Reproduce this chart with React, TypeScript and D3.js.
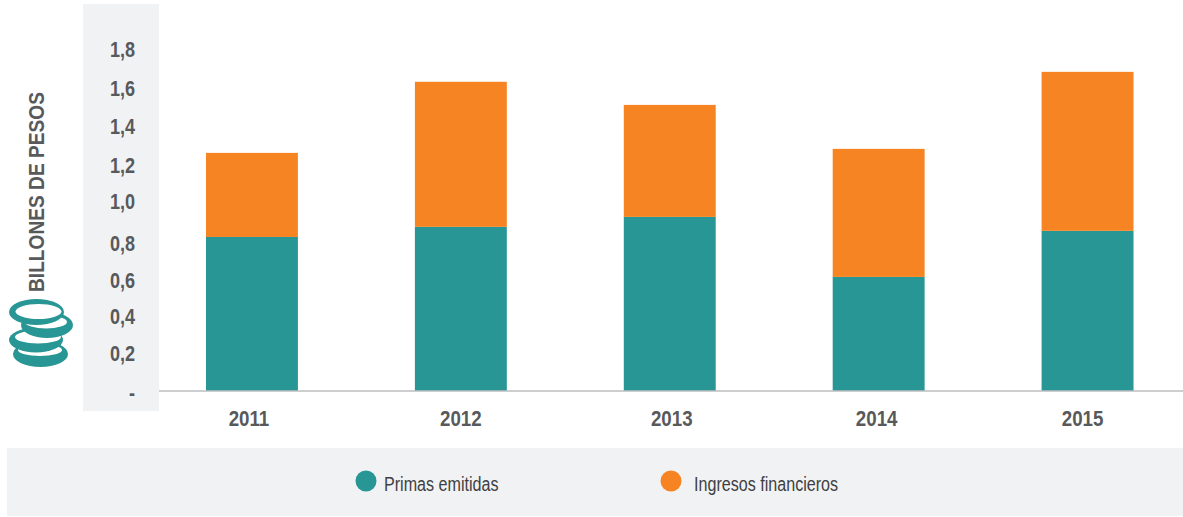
import React, { useEffect, useRef } from "react";
import { select, scaleLinear, scaleBand, axisLeft, axisBottom, stack, format } from "d3";

const years = ["2011", "2012", "2013", "2014", "2015"];
const primas = [0.806, 0.859, 0.911, 0.597, 0.838];
const ingresos = [0.44, 0.759, 0.586, 0.67, 0.832];
const tickValues = [0, 0.2, 0.4, 0.6, 0.8, 1.0, 1.2, 1.4, 1.6, 1.8];
const seriesNames = ["Primas emitidas", "Ingresos financieros"];

const width = 1183;
const height = 517;
const teal = "#279694";
const orange = "#F68422";
const panel = "#F1F2F4";
const textColor = "#58595B";
const font = "'Liberation Sans', Arial, sans-serif";

// the labels in the original are hand placed, not evenly spaced
const yearNudge = [-3, 0, 2, -2, -5];
const tickNudge = [-3, -3, -2, 0, 2, -2, 0, 0, 0, -1];

// coin icon, drawn back to front: [cx, cy, rx, ry, inner cx, inner cy, inner rx, inner ry]
const coins = [
  [40.5, 354, 27.5, 13, 40, 350, 22, 6],
  [36, 340, 27, 12.5, 38, 337, 23, 6.5],
  [47, 325, 26, 13, 46, 322, 21, 6.5],
  [36.5, 312, 27.5, 13, 38.5, 311.5, 23, 7.5],
];

// no narrow font here, so squeeze the regular one to the original's width
function squeeze(sel: any, factor: number) {
  sel.each(function (this: any) {
    select(this)
      .attr("textLength", this.getComputedTextLength() * factor)
      .attr("lengthAdjust", "spacingAndGlyphs");
  });
}

function App() {
  const svgRef = useRef<SVGSVGElement>(null);

  useEffect(() => {
    const svg = select(svgRef.current);
    svg.selectAll("*").remove();

    const x = scaleBand<string>()
      .domain(years)
      .range([147.5, 1192])
      .paddingInner(0.56)
      .paddingOuter(0.28);
    const y = scaleLinear().domain([0, 1.8]).range([391, 47]);
    // the tick labels sit a bit lower than the bars' own zero
    const yLabels = scaleLinear().domain([0, 1.8]).range([395, 50]);

    svg.append("rect").attr("x", 83).attr("y", 4).attr("width", 76).attr("height", 407).attr("fill", panel);
    svg.append("rect").attr("x", 7).attr("y", 448).attr("width", 1176).attr("height", 68).attr("fill", panel);

    const rows = years.map((year, i) => ({ year, primas: primas[i], ingresos: ingresos[i] }));
    const layers = stack<any>().keys(["primas", "ingresos"])(rows);
    svg
      .append("g")
      .selectAll("g")
      .data(layers)
      .join("g")
      .attr("fill", (_, i) => (i === 0 ? teal : orange))
      .selectAll("rect")
      .data((d) => d)
      .join("rect")
      .attr("x", (d) => x(d.data.year) as number)
      .attr("width", x.bandwidth())
      .attr("y", (d) => y(d[1]))
      .attr("height", (d) => y(d[0]) - y(d[1]));

    svg.append("line").attr("x1", 159).attr("x2", 1183).attr("y1", 391).attr("y2", 391).attr("stroke", "#BCBEC0").attr("stroke-width", 1.5);

    const yAxis = svg
      .append("g")
      .attr("transform", "translate(135,0)")
      .call(
        axisLeft(yLabels)
          .tickValues(tickValues)
          .tickSize(0)
          .tickPadding(0)
          .tickFormat((d) => (d === 0 ? "-" : format(".1f")(d as number).replace(".", ",")))
      );
    yAxis.select(".domain").remove();
    yAxis
      .selectAll("text")
      .attr("y", (_, i) => tickNudge[i])
      .attr("font-family", font)
      .attr("font-size", 22)
      .attr("font-weight", "bold")
      .attr("fill", textColor)
      .call(squeeze, 0.82);

    const xAxis = svg
      .append("g")
      .attr("transform", "translate(0,410)")
      .call(axisBottom(x).tickSize(0).tickPadding(0));
    xAxis.select(".domain").remove();
    xAxis
      .selectAll("text")
      .attr("dx", (_, i) => yearNudge[i])
      .attr("font-family", font)
      .attr("font-size", 22)
      .attr("font-weight", "bold")
      .attr("fill", textColor)
      .call(squeeze, 0.85);

    svg
      .append("text")
      .attr("transform", "translate(44,292) rotate(-90)")
      .attr("font-family", font)
      .attr("font-size", 22)
      .attr("font-weight", "bold")
      .attr("fill", textColor)
      .text("BILLONES DE PESOS")
      .call(squeeze, 0.87);

    coins.forEach(([cx, cy, rx, ry, ix, iy, irx, iry]) => {
      svg.append("ellipse").attr("cx", cx).attr("cy", cy).attr("rx", rx).attr("ry", ry).attr("fill", teal);
      svg.append("ellipse").attr("cx", ix).attr("cy", iy).attr("rx", irx).attr("ry", iry).attr("fill", "#fff");
    });

    const legendX = [366, 671];
    const legendLabelX = [384, 694];
    seriesNames.forEach((name, i) => {
      svg.append("circle").attr("cx", legendX[i]).attr("cy", 481).attr("r", 10.5).attr("fill", i === 0 ? teal : orange);
      svg
        .append("text")
        .attr("x", legendLabelX[i])
        .attr("y", 491)
        .attr("font-family", font)
        .attr("font-size", 20)
        .attr("fill", "#404042")
        .text(name)
        .call(squeeze, 0.805);
    });
  }, []);

  return (
    <svg
      ref={svgRef}
      width={width}
      height={height}
      style={{ position: "absolute", left: 0, top: 0, display: "block", background: "#fff" }}
    />
  );
}

export default App;
